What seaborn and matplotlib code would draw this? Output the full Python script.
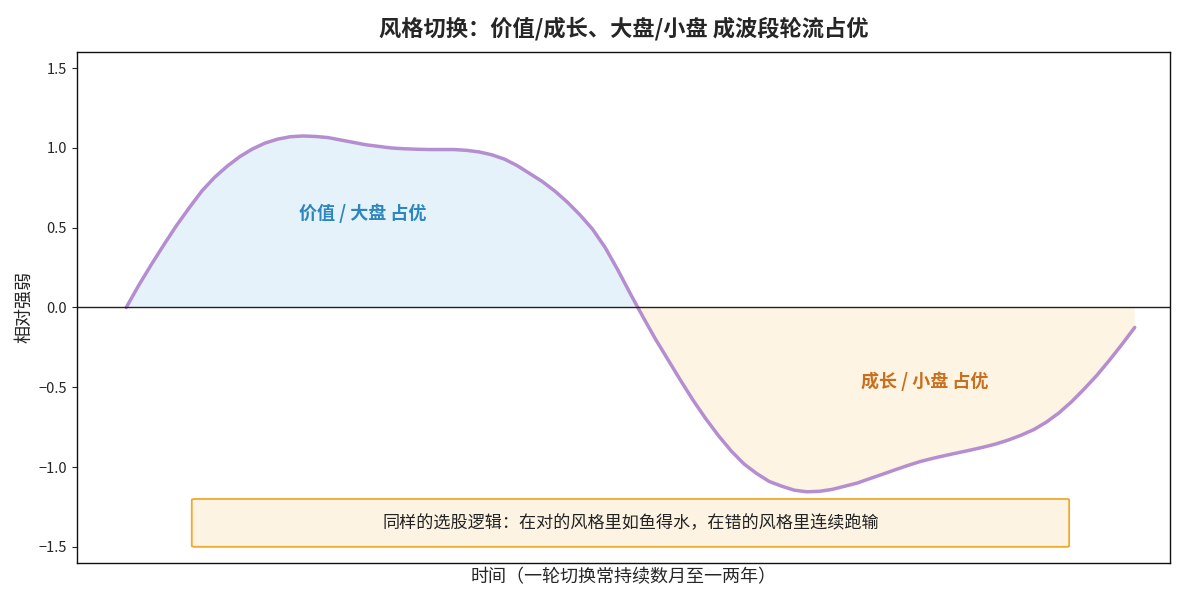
import matplotlib.pyplot as plt
import numpy as np
import pandas as pd
import seaborn as sns
from matplotlib.patches import FancyBboxPatch

# 时间轴
t = [0.0, 0.125, 0.25, 0.375, 0.5, 0.625, 0.75, 0.875,
     1.0, 1.125, 1.25, 1.375, 1.5, 1.625, 1.75, 1.875,
     2.0, 2.125, 2.25, 2.375, 2.5, 2.625, 2.75, 2.875,
     3.0, 3.125, 3.25, 3.375, 3.5, 3.625, 3.75, 3.875,
     4.0, 4.125, 4.25, 4.375, 4.5, 4.625, 4.75, 4.875,
     5.0, 5.125, 5.25, 5.375, 5.5, 5.625, 5.75, 5.875,
     6.0, 6.125, 6.25, 6.375, 6.5, 6.625, 6.75, 6.875,
     7.0, 7.125, 7.25, 7.375, 7.5, 7.625, 7.75, 7.875,
     8.0, 8.125, 8.25, 8.375, 8.5, 8.625, 8.75, 8.875,
     9.0, 9.125, 9.25, 9.375, 9.5, 9.625, 9.75, 9.875,
     10.0]
# 相对强弱
strength = [0.0, 0.14, 0.27, 0.395, 0.515, 0.625, 0.73, 0.815,
            0.885, 0.945, 0.993, 1.03, 1.055, 1.07, 1.075, 1.072,
            1.065, 1.05, 1.035, 1.02, 1.01, 1.0, 0.995, 0.992,
            0.99, 0.99, 0.99, 0.985, 0.975, 0.957, 0.93, 0.89,
            0.84, 0.79, 0.73, 0.66, 0.58, 0.49, 0.375, 0.235,
            0.085, -0.06, -0.20, -0.33, -0.46, -0.585, -0.70, -0.805,
            -0.90, -0.98, -1.04, -1.09, -1.12, -1.145, -1.155, -1.152,
            -1.14, -1.12, -1.10, -1.072, -1.045, -1.017, -0.99, -0.965,
            -0.945, -0.927, -0.91, -0.893, -0.875, -0.855, -0.83, -0.80,
            -0.765, -0.718, -0.66, -0.59, -0.51, -0.425, -0.33, -0.23,
            -0.125]

label_value = "价值 / 大盘 占优"
label_growth = "成长 / 小盘 占优"
note_text = "同样的选股逻辑：在对的风格里如鱼得水，在错的风格里连续跑输"
title_text = "风格切换：价值/成长、大盘/小盘 成波段轮流占优"

sns.set_style("ticks")
plt.rcParams['font.family'] = ['Noto Sans CJK SC', 'DejaVu Sans']
plt.rcParams['axes.unicode_minus'] = True

df = pd.DataFrame({"t": t, "strength": strength})
x = np.array(t)
y = np.array(strength)

fig, ax = plt.subplots(figsize=(12, 6), dpi=100)
fig.subplots_adjust(left=0.064, right=0.975, top=0.913, bottom=0.062)

ax.fill_between(x, y, 0, where=y >= 0, interpolate=True,
                color="#3498db", alpha=0.12, linewidth=0)
ax.fill_between(x, y, 0, where=y <= 0, interpolate=True,
                color="#f5a623", alpha=0.12, linewidth=0)
sns.lineplot(data=df, x="t", y="strength", ax=ax,
             color="#b48ed0", linewidth=2.5)
for ln in ax.get_lines():
    ln.set_solid_joinstyle("round")
ax.axhline(0, color="#222222", linewidth=1)

ax.text(2.34, 0.59, label_value, color="#2e86c1", fontsize=13,
        fontweight="bold", ha="center", va="center")
ax.text(7.92, -0.46, label_growth, color="#ca6f1e", fontsize=13,
        fontweight="bold", ha="center", va="center")

box = FancyBboxPatch((0.65, -1.5), 8.7, 0.3,
                     boxstyle="round,pad=0,rounding_size=0.03",
                     facecolor="#fdf3e3", edgecolor="#f0a830",
                     linewidth=1.3, mutation_aspect=1 / 5, zorder=3)
ax.add_patch(box)
ax.text(5.0, -1.35, note_text, fontsize=12.3, color="#222222",
        ha="center", va="center", zorder=4)

ax.set_xlim(-0.49, 10.35)
ax.set_ylim(-1.6, 1.6)
ax.set_yticks([-1.5, -1.0, -0.5, 0.0, 0.5, 1.0, 1.5])
ax.set_xticks([])
ax.tick_params(axis="y", labelsize=10.5)
ax.set_xlabel("时间（一轮切换常持续数月至一两年）", fontsize=13)
ax.set_ylabel("相对强弱", fontsize=13)
ax.set_title(title_text, fontsize=16, fontweight="bold", pad=12)
for s in ax.spines.values():
    s.set_visible(True)
    s.set_color("#111111")
    s.set_linewidth(1)

fig.savefig("out.png", dpi=100)
